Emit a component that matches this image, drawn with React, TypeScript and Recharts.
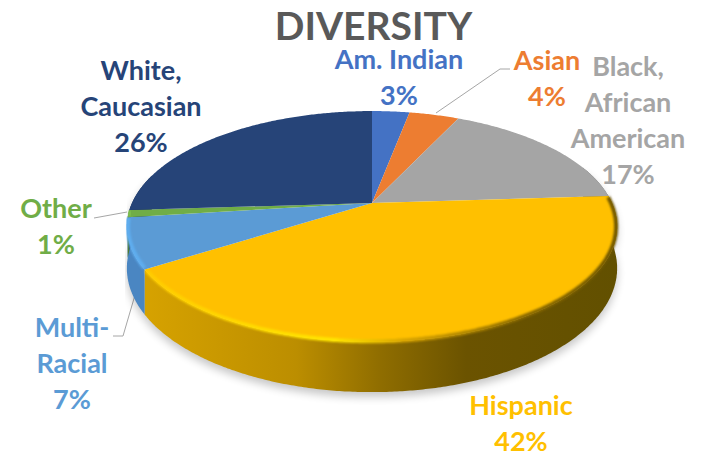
import { Pie, PieChart } from "recharts";

const categories = ["Am. Indian", "Asian", "Black, African American", "Hispanic", "Multi-Racial", "Other", "White, Caucasian"];
const shares = [3, 4, 17, 42, 7, 1, 26];
const labelLines = [["Am. Indian"], ["Asian"], ["Black,", "African", "American"], ["Hispanic"], ["Multi-", "Racial"], ["Other"], ["White,", "Caucasian"]];
const sliceColors = ["#4472C4", "#ED7D31", "#A5A5A5", "#FFC000", "#5B9BD5", "#70AD47", "#264478"];
const wallFills = ["#2f5597", "#a85a20", "#6b6b6b", "url(#hispanicWall)", "#4A86C2", "#4e7a31", "#1a2f54"];
const rimStrokes = ["none", "none", "none", "url(#hispanicRim)", "#5FAEF0", "#7fc050", "none"];

// where each label sits: centre x and the first baseline
const labelX = [399, 547, 628, 521, 72, 56, 141];
const labelY = [69, 70, 76, 415, 337, 218, 80];
const lineStep = 36;

const data = categories.map((name, i) => ({ name, value: shares[i] }));

// tilt of the disc: far edge is pulled in, near edge is pushed out
const TILT = 0.2035;
const SQUASH = 0.461;
const DEPTH = 40;

function project(deg: number, r: number, cx: number, cy: number) {
  const a = (deg * Math.PI) / 180;
  const den = 1 + TILT * Math.cos(a);
  return {
    x: cx + (r * Math.sin(a)) / den,
    y: cy - (r * SQUASH * Math.cos(a)) / den,
    drop: DEPTH / den,
  };
}

function rimPoints(from: number, to: number, r: number, cx: number, cy: number) {
  const pts = [];
  const n = Math.max(2, Math.ceil((to - from) * 2));
  for (let i = 0; i <= n; i++) pts.push(project(from + ((to - from) * i) / n, r, cx, cy));
  return pts;
}

function toPath(pts: { x: number; y: number }[]) {
  return pts.map((p, i) => `${i ? "L" : "M"}${p.x.toFixed(1)} ${p.y.toFixed(1)}`).join(" ");
}

function wallPath(props: any) {
  const { cx, cy, outerRadius, startAngle, endAngle } = props;
  const from = Math.max(90 - startAngle, 70);
  const to = Math.min(90 - endAngle, 285);
  if (to <= from) return null;
  const top = rimPoints(from, to, outerRadius, cx, cy);
  const bottom = top.map((p) => ({ x: p.x, y: p.y + p.drop })).reverse();
  return `${toPath(top)} ${toPath(bottom).replace("M", "L")} Z`;
}

function ShadowShape(props: any) {
  const d = wallPath(props);
  if (!d) return <g />;
  return <path d={d} fill="#000" opacity={0.22} filter="url(#soft)" transform="translate(0 5)" />;
}

function WallShape(props: any) {
  const d = wallPath(props);
  if (!d) return <g />;
  return <path d={d} fill={wallFills[props.index]} />;
}

function TopShape(props: any) {
  const { cx, cy, outerRadius, startAngle, endAngle, index } = props;
  const from = 90 - startAngle;
  const to = 90 - endAngle;
  const rim = rimPoints(from, to, outerRadius, cx, cy);
  const rimIn = rimPoints(from + 0.6, to - 0.4, outerRadius - 1, cx, cy);
  return (
    <g>
      <path d={`M${cx} ${cy} ${toPath(rim).replace("M", "L")} Z`} fill={sliceColors[index]} />
      {rimStrokes[index] !== "none" ? (
        <path d={toPath(rimIn)} fill="none" stroke={rimStrokes[index]} strokeWidth={4} filter="url(#rimBlur)" />
      ) : null}
    </g>
  );
}

function SliceLabel(props: any) {
  const { index } = props;
  const lines = [...labelLines[index], `${shares[index]}%`];
  return (
    <text fill={sliceColors[index]} fontFamily="Lato" fontSize={27} fontWeight={700} textAnchor="middle">
      {lines.map((line, i) => (
        <tspan key={line} x={labelX[index]} y={labelY[index] + i * lineStep}>
          {line}
        </tspan>
      ))}
    </text>
  );
}

export default function App() {
  const center = { cx: 372, cy: 203, outerRadius: 240, startAngle: 90, endAngle: -270, stroke: "none", isAnimationActive: false };
  return (
    <div style={{ position: "absolute", left: 0, top: 0, width: 705, height: 455, background: "#fff" }}>
      <PieChart width={705} height={455} margin={{ top: 0, right: 0, bottom: 0, left: 0 }}>
        <defs>
          <linearGradient id="hispanicWall" gradientUnits="userSpaceOnUse" x1={145} y1={0} x2={617} y2={0}>
            <stop offset="0" stopColor="#D6A200" />
            <stop offset="0.32" stopColor="#BC8E00" />
            <stop offset="0.5" stopColor="#8F6D00" />
            <stop offset="0.68" stopColor="#6B5300" />
            <stop offset="1" stopColor="#625000" />
          </linearGradient>
          <linearGradient id="hispanicRim" gradientUnits="userSpaceOnUse" x1={145} y1={0} x2={617} y2={0}>
            <stop offset="0" stopColor="#FFCC00" />
            <stop offset="0.4" stopColor="#FFE600" />
            <stop offset="0.55" stopColor="#D8A400" />
            <stop offset="0.8" stopColor="#8A6A00" />
            <stop offset="1" stopColor="#6E5600" />
          </linearGradient>
          <filter id="soft" x="-10%" y="-10%" width="120%" height="130%">
            <feGaussianBlur stdDeviation={4} />
          </filter>
          <filter id="rimBlur" x="-10%" y="-10%" width="120%" height="120%">
            <feGaussianBlur stdDeviation={1.3} />
          </filter>
        </defs>
        <Pie {...center} data={data} dataKey="value" shape={ShadowShape} />
        <Pie {...center} data={data} dataKey="value" shape={WallShape} />
        <Pie {...center} data={data} dataKey="value" shape={TopShape} label={SliceLabel} labelLine={false} />
        <text x={373.5} y={40} textAnchor="middle" fill="#595959" fontFamily="Lato" fontSize={39} fontWeight={700}>
          DIVERSITY
        </text>
        <g fill="none" stroke="#A6A6A6" strokeWidth={1}>
          <polyline points="436,113 500,69 510,69" />
          <polyline points="127,212 94,218" />
          <polyline points="135,295 123,336 113,336" />
        </g>
      </PieChart>
    </div>
  );
}
